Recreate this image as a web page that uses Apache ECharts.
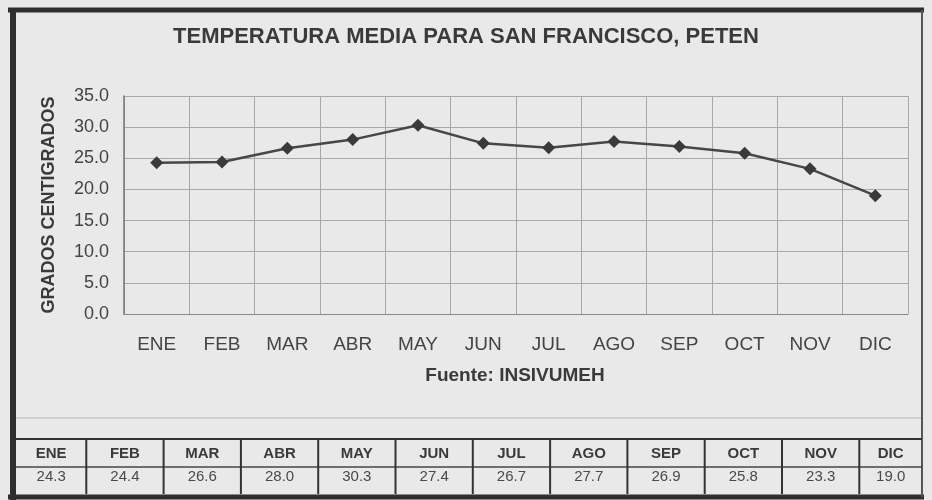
<!DOCTYPE html>
<html>
<head>
<meta charset="utf-8">
<script src="https://cdn.jsdelivr.net/npm/echarts@6/dist/echarts.min.js"></script>
<style>
html,body{margin:0;padding:0;background:#e9e9e9;}
#chart{width:932px;height:500px;}
</style>
</head>
<body>
<div id="chart"></div>
<script>
var months = ['ENE','FEB','MAR','ABR','MAY','JUN','JUL','AGO','SEP','OCT','NOV','DIC'];
var temps = [24.3, 24.4, 26.6, 28.0, 30.3, 27.4, 26.7, 27.7, 26.9, 25.8, 23.3, 19.0];
var titleText = 'TEMPERATURA MEDIA PARA SAN FRANCISCO, PETEN';
var yName = 'GRADOS CENTIGRADOS';
var sourceText = 'Fuente: INSIVUMEH';

var chart = echarts.init(document.getElementById('chart'), null, {renderer:'canvas'});

var tableLeft = 9, colW = 77.3, tableRight = 922;
var yTop = 439, yMid = 467, yBot = 494;
var g = [];
var textColor = '#3a3a3a';
var ff = '"Liberation Sans", Arial, sans-serif';
// outer frame
g.push({type:'line', shape:{x1:8,y1:10,x2:924,y2:10}, style:{stroke:'#2e2e2e',lineWidth:5}, z:10});
g.push({type:'line', shape:{x1:13,y1:8,x2:13,y2:500}, style:{stroke:'#2e2e2e',lineWidth:6}, z:10});
g.push({type:'line', shape:{x1:8,y1:497,x2:924,y2:497}, style:{stroke:'#2e2e2e',lineWidth:5}, z:10});
g.push({type:'line', shape:{x1:922,y1:10,x2:922,y2:497}, style:{stroke:'#555',lineWidth:2}, z:10});
// faint separator
g.push({type:'line', shape:{x1:16,y1:418,x2:921,y2:418}, style:{stroke:'#b5b5b5',lineWidth:1}, z:10});
// table lines
g.push({type:'line', shape:{x1:16,y1:yTop,x2:tableRight,y2:yTop}, style:{stroke:'#333',lineWidth:2}, z:10});
g.push({type:'line', shape:{x1:16,y1:yMid,x2:tableRight,y2:yMid}, style:{stroke:'#444',lineWidth:1.5}, z:10});
for (var i = 0; i < months.length; i++) {
  var x0 = tableLeft + i * colW;
  var x1 = Math.min(x0 + colW, tableRight);
  if (i > 0) {
    g.push({type:'line', shape:{x1:x0,y1:yTop,x2:x0,y2:yBot}, style:{stroke:'#333',lineWidth:2}, z:10});
  }
  var cx = (Math.max(x0,16) + x1) / 2;
  g.push({type:'text', x:cx, y:454, z:11,
    style:{text:months[i], fill:textColor, font:'bold 15px ' + ff, textAlign:'center', textVerticalAlign:'middle'}});
  g.push({type:'text', x:cx, y:477, z:11,
    style:{text:temps[i].toFixed(1), fill:'#4a4a4a', font:'15px ' + ff, textAlign:'center', textVerticalAlign:'middle'}});
}
g.push({type:'text', x:515, y:376, z:11,
  style:{text:sourceText, fill:textColor, font:'bold 19px ' + ff, textAlign:'center', textVerticalAlign:'middle'}});

var option = {
  backgroundColor:'#e9e9e9',
  animation:false,
  title:{
    text:titleText,
    left:'center',
    top:21,
    textStyle:{fontFamily:ff, fontWeight:'bold', fontSize:22, color:textColor}
  },
  grid:{left:124, right:24, top:96, bottom:186, containLabel:false},
  xAxis:{
    type:'category',
    data:months,
    boundaryGap:true,
    axisLine:{show:true, lineStyle:{color:'#888', width:1}},
    axisTick:{show:false},
    axisLabel:{color:'#444', fontSize:19, fontFamily:ff, margin:21},
    splitLine:{show:true, lineStyle:{color:'#a8a8a8', width:1}}
  },
  yAxis:{
    type:'value',
    min:0, max:35, interval:5,
    name:yName,
    nameLocation:'middle',
    nameGap:66,
    nameTextStyle:{fontFamily:ff, fontWeight:'bold', fontSize:18, color:textColor},
    axisLine:{show:true, lineStyle:{color:'#777', width:1.5}},
    axisTick:{show:false},
    axisLabel:{color:'#444', fontSize:18, fontFamily:ff, margin:15,
      formatter:function(v){return v.toFixed(1);}},
    splitLine:{show:true, lineStyle:{color:'#a8a8a8', width:1}}
  },
  series:[{
    type:'line',
    data:temps,
    symbol:'diamond',
    symbolSize:13,
    lineStyle:{color:'#474747', width:2.5},
    itemStyle:{color:'#3a3a3a'}
  }],
  graphic:g
};
chart.setOption(option);
</script>
</body>
</html>
